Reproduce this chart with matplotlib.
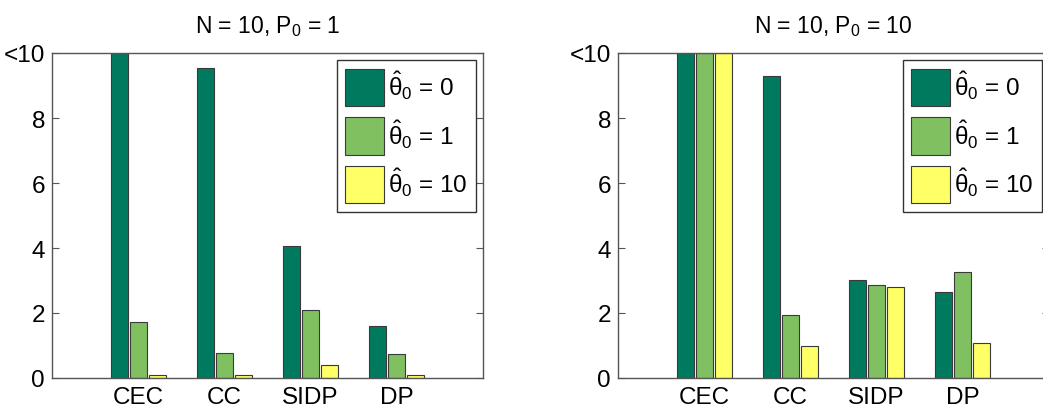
import matplotlib
matplotlib.use("Agg")
import matplotlib.pyplot as plt
import numpy as np

categories = ["CEC", "CC", "SIDP", "DP"]
series_labels = [r"$\hat{\theta}_0$ = 0", r"$\hat{\theta}_0$ = 1", r"$\hat{\theta}_0$ = 10"]
y_ticks = [0, 2, 4, 6, 8, 10]
y_ticklabels = ["0", "2", "4", "6", "8", "<10"]

# values per panel, rows = theta_0 series, columns = categories (bars above 10 are clipped)
p0_1 = [
    [10.0, 9.54, 4.05, 1.61],
    [1.71, 0.77, 2.09, 0.75],
    [0.09, 0.09, 0.40, 0.09],
]
p0_10 = [
    [10.0, 9.28, 3.03, 2.65],
    [10.0, 1.93, 2.87, 3.26],
    [10.0, 1.00, 2.79, 1.08],
]
titles = [r"N = 10, P$_0$ = 1", r"N = 10, P$_0$ = 10"]

COLORS = ["#007a5e", "#80c060", "#ffff66"]
EDGE = "#3a3a3a"

plt.rcParams.update({
    "font.family": ["Liberation Sans", "DejaVu Sans"],
    "mathtext.fontset": "custom",
    "mathtext.rm": "Liberation Sans",
    "mathtext.it": "Liberation Sans",
    "mathtext.bf": "Liberation Sans:bold",
    "font.size": 17.5,
})

fig = plt.figure(figsize=(10.43, 4.10), dpi=100)
W, H = 1043, 410
ax_w = 431 / W
ax_b = 1 - 379 / H
ax_h = (379 - 54) / H
axes = [fig.add_axes([52 / W, ax_b, ax_w, ax_h]), fig.add_axes([618 / W, ax_b, ax_w, ax_h])]

x = np.arange(1, len(categories) + 1)
offsets = [-0.22, 0.0, 0.22]
for ax, data, title in zip(axes, [p0_1, p0_10], titles):
    for vals, off, color, label in zip(data, offsets, COLORS, series_labels):
        ax.bar(x + off, np.minimum(vals, 10), width=0.195, color=color,
               edgecolor=EDGE, linewidth=0.8, label=label)
    ax.set_xlim(0, 5)
    ax.set_ylim(0, 10)
    ax.set_xticks(x)
    ax.set_xticklabels(categories)
    ax.set_yticks(y_ticks)
    ax.set_yticklabels(y_ticklabels)
    ax.tick_params(axis="y", direction="in", length=5, right=True, color="#555555", pad=5)
    ax.tick_params(axis="x", length=0, pad=6)
    for sp in ax.spines.values():
        sp.set_color("#555555")
        sp.set_linewidth(1.0)
    ax.set_title(title, fontsize=16.5, pad=15)
    leg = ax.legend(loc="upper right", fontsize=17.5, handlelength=1.6, handleheight=2.0,
                    labelspacing=0.45, borderpad=0.35, handletextpad=0.15,
                    borderaxespad=0.3, fancybox=False, framealpha=1)
    leg.get_frame().set_edgecolor("#333333")
    leg.get_frame().set_linewidth(1.0)

fig.savefig("out.png", dpi=100)
